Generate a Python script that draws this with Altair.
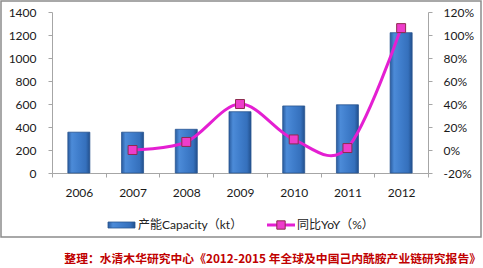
import altair as alt
import pandas as pd

years = ["2006", "2007", "2008", "2009", "2010", "2011", "2012"]
capacity = [355, 355, 380, 533, 583, 593, 1220]
yoy = [None, 0.0, 0.07, 0.40, 0.092, 0.017, 1.06]
left_ticks = [0, 200, 400, 600, 800, 1000, 1200, 1400]
right_ticks = [-0.2, 0.0, 0.2, 0.4, 0.6, 0.8, 1.0, 1.2]
legend_bar = "产能Capacity（kt）"
legend_line = "同比YoY（%）"
footer = "整理：水清木华研究中心《2012-2015 年全球及中国己内酰胺产业链研究报告》"

df = pd.DataFrame({"year": years, "capacity": capacity, "yoy": yoy})
one = pd.DataFrame({"k": [0]})

FONT = "Lato, Noto Sans CJK SC, sans-serif"
AXIS_GRAY = "#A6A6A6"

x_enc = alt.X(
    "year:N", sort=years, title=None,
    scale=alt.Scale(paddingInner=0, paddingOuter=0),
    axis=alt.Axis(labelAngle=0, tickBand="extent", tickSize=4, labelPadding=10),
)

bar_grad = alt.Gradient(
    gradient="linear", x1=0, x2=1, y1=0, y2=0,
    stops=[
        alt.GradientStop(color="#2A5C9F", offset=0),
        alt.GradientStop(color="#4C8BD8", offset=0.18),
        alt.GradientStop(color="#3F7DCB", offset=0.5),
        alt.GradientStop(color="#3570BC", offset=0.82),
        alt.GradientStop(color="#22508D", offset=1),
    ],
)

bars = alt.Chart(df).mark_bar(size=22, color=bar_grad, stroke="#2A5690", strokeWidth=0.8).encode(
    x=x_enc,
    y=alt.Y("capacity:Q", title=None,
            scale=alt.Scale(domain=[0, 1400], nice=False),
            axis=alt.Axis(orient="left", values=left_ticks, format="d", tickSize=4, labelPadding=12)),
)

y_right = alt.Y("yoy:Q", title=None,
                scale=alt.Scale(domain=[-0.2, 1.2], nice=False),
                axis=alt.Axis(orient="right", values=right_ticks, tickSize=4, labelPadding=11,
                              labelExpr="round(datum.value*100) + '%'"))

line = alt.Chart(df).mark_line(color="#E41FD2", strokeWidth=3, interpolate="cardinal").encode(
    x=x_enc, y=y_right)
pts = alt.Chart(df).mark_point(shape="square", filled=True, size=80, fill="#EE3DCB",
                               stroke="#8E2B4F", strokeWidth=1, opacity=1).encode(
    x=x_enc, y=y_right)
line_layer = alt.layer(line, pts)

# frame and legend decorations
frame = alt.Chart(one).mark_rect(fill="white", fillOpacity=0, stroke="#8C8C8C", strokeWidth=1.5).encode(
    x=alt.value(-51), x2=alt.value(429), y=alt.value(-11), y2=alt.value(225))
leg_bar = alt.Chart(one).mark_rect(color=bar_grad, stroke="#2A5690", strokeWidth=0.8).encode(
    x=alt.value(56), x2=alt.value(83), y=alt.value(210), y2=alt.value(216))
leg_txt1 = alt.Chart(one).mark_text(text=legend_bar, align="left", baseline="middle",
                                    font=FONT, fontSize=12, color="#222222").encode(
    x=alt.value(86), y=alt.value(213))
leg_line = alt.Chart(one).mark_rule(color="#E41FD2", strokeWidth=3).encode(
    x=alt.value(215), x2=alt.value(243), y=alt.value(213))
leg_sq = alt.Chart(one).mark_point(shape="square", filled=True, size=70, fill="#EE3DCB",
                                   stroke="#8E2B4F", strokeWidth=1, opacity=1).encode(
    x=alt.value(229), y=alt.value(213))
leg_txt2 = alt.Chart(one).mark_text(text=legend_line, align="left", baseline="middle",
                                    font=FONT, fontSize=12, color="#222222").encode(
    x=alt.value(245), y=alt.value(213))
foot = alt.Chart(one).mark_text(text=footer, align="right", baseline="middle",
                                font="Noto Sans CJK SC", fontSize=11.8, fontWeight="bold",
                                color="#C00000").encode(
    x=alt.value(429), y=alt.value(247))

chart = alt.layer(
    frame, bars, line_layer, leg_bar, leg_txt1, leg_line, leg_sq, leg_txt2, foot
).resolve_scale(y="independent").properties(
    width=376, height=161,
    autosize=alt.AutoSizeParams(type="none"),
    padding={"left": 52, "top": 12, "right": 55, "bottom": 95},
    background="white",
).configure_view(stroke=None).configure_axis(
    grid=False, domainColor=AXIS_GRAY, tickColor=AXIS_GRAY,
    labelColor="#1A1A1A", labelFont=FONT, labelFontSize=12,
)

chart.save("out.html", embed_options={"renderer": "svg", "actions": False})
